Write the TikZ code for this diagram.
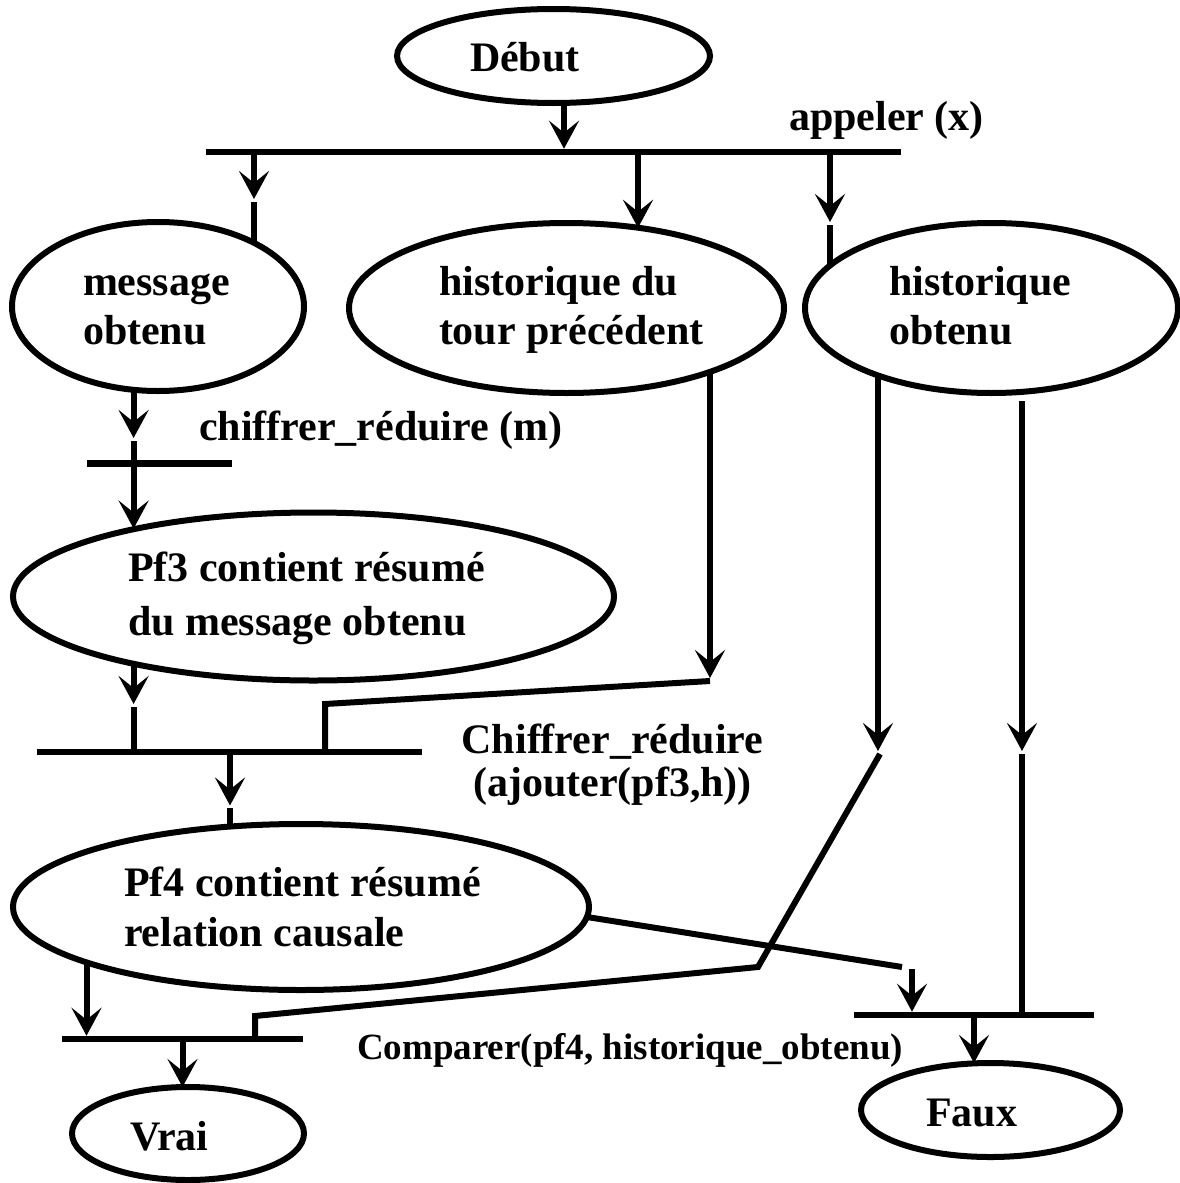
\documentclass[tikz,border=0pt]{standalone}
\usepackage{fontspec}
\setmainfont{Liberation Serif}
\usetikzlibrary{shapes.geometric,arrows.meta}
\begin{document}
\begin{tikzpicture}[x=1pt,y=-1pt,
  every node/.style={inner sep=0pt, outer sep=0pt},
  ell/.style={draw, ellipse, line width=6pt},
  tbar/.style={fill=black, rectangle, minimum height=6.5pt},
  lbl/.style={font=\bfseries\fontsize{42}{49}\selectfont, align=left, anchor=base west},
  ln/.style={line width=6pt},
  arr/.style={ln, -{Stealth[length=28pt,width=30pt,inset=12pt]}},
]
\useasboundingbox (0,0) rectangle (1180,1183);

% ellipses
\node[ell, minimum width=313pt, minimum height=94pt] (debut) at (553.5,56) {};
\node[ell, minimum width=292pt, minimum height=169pt] (msg) at (158,306.5) {};
\node[ell, minimum width=435pt, minimum height=170pt] (hdt) at (566.5,308) {};
\node[ell, minimum width=373pt, minimum height=170pt] (ho) at (991.5,308) {};
\node[ell, minimum width=601pt, minimum height=168pt] (pf3) at (313.5,596.5) {};
\node[ell, minimum width=576pt, minimum height=166pt] (pf4) at (301,907) {};
\node[ell, minimum width=232pt, minimum height=93pt] (vrai) at (188,1133.5) {};
\node[ell, minimum width=259pt, minimum height=94pt] (faux) at (990.5,1110) {};

% bars
\node[tbar, minimum width=695pt] (t1) at (553.5,152) {};
\node[tbar, minimum width=145.5pt] (t2) at (159.25,463.5) {};
\node[tbar, minimum width=385pt] (t3) at (229.5,752) {};
\node[tbar, minimum width=241pt] (t4) at (182.5,1039) {};
\node[tbar, minimum width=240pt] (t5) at (974,1015) {};

% texts (multi-line nodes: base = last line)
\node[lbl] (tdebut) at (470,71.5) {Début};
\node[lbl] (tappel) at (789,130) {appeler (x)};
\node[lbl] (tmsg) at (83,344) {message\\obtenu};
\node[lbl] (thdt) at (439,344) {historique du\\tour précédent};
\node[lbl] (tho) at (889,344) {historique\\obtenu};
\node[lbl] (tchm) at (199,440) {chiffrer\_réduire (m)};
\node[lbl, font=\bfseries\fontsize{42}{54}\selectfont] (tpf3) at (128,635) {Pf3 contient résumé\\du message obtenu};
\node[lbl, font=\bfseries\fontsize{42}{43}\selectfont, align=center, anchor=base] (tchr) at (612.5,796) {Chiffrer\_réduire\\(ajouter(pf3,h))};
\node[lbl, font=\bfseries\fontsize{42}{50}\selectfont] (tpf4) at (124,946.5) {Pf4 contient résumé\\relation causale};
\node[lbl, font=\bfseries\fontsize{37}{44}\selectfont] (tcmp) at (357,1059) {Comparer(pf4, historique\_obtenu)};
\node[lbl] (tvrai) at (130,1150) {Vrai};
\node[lbl] (tfaux) at (926,1126) {Faux};

% free ends
\coordinate (m1) at (254,199); \coordinate (m2) at (254,202);
\coordinate (h1) at (830,222); \coordinate (h2) at (830,225);
\coordinate (c1) at (133.6,438); \coordinate (c2) at (133.6,441);
\coordinate (c3) at (133.6,704); \coordinate (c4) at (133.6,707);
\coordinate (d1) at (710,678); \coordinate (d2) at (710,681); \coordinate (d3) at (325,704);
\coordinate (e1) at (230,805.5); \coordinate (e2) at (230,808);
\coordinate (f1) at (878,751); \coordinate (f2) at (880,754); \coordinate (f3) at (758,967); \coordinate (f4) at (255,1016);
\coordinate (g0) at (1022,401); \coordinate (g1) at (1022,751); \coordinate (g2) at (1022,754);
\coordinate (k1) at (902,967); \coordinate (k2) at (912,969);

% connectors
\draw[arr] (564,0 |- debut.south) -- (564,0 |- t1.north);
\draw[arr] (254,0 |- t1.south) -- (m1);
\draw[ln] (m2) -- (254,0 |- msg.33.7);
\draw[arr] (638,0 |- t1.south) -- (638,0 |- hdt.48);
\draw[arr] (830,0 |- t1.south) -- (h1);
\draw[ln] (h2) -- (830,0 |- ho.165);

\draw[arr] (133.6,0 |- msg.south) -- (c1);
\draw[arr] (c2) -- (133.6,0 |- pf3.159.6);
\draw[arr] (133.6,0 |- pf3.200.4) -- (c3);
\draw[ln] (c4) -- (133.6,0 |- t3.north);
\draw[arr] (710,0 |- hdt.-23.9) -- (d1);
\draw[ln] (d2) -- (d3) -- (325,0 |- t3.north);
\draw[arr] (230,0 |- t3.south) -- (e1);
\draw[ln] (e2) -- (230,0 |- pf4.131.4);

\draw[arr] (878,0 |- ho.210.9) -- (f1);
\draw[ln] (f2) -- (f3) -- (f4) -- (255,0 |- t4.north);
\draw[arr] (g0) -- (g1);
\draw[ln] (g2) -- (1022,0 |- t5.north);
\draw[ln] (pf4.-2.2) -- (k1);
\draw[arr] (k2) -- (912,0 |- t5.north);
\draw[arr] (86.5,0 |- pf4.194.5) -- (86.5,0 |- t4.north);
\draw[arr] (182.5,0 |- t4.south) -- (182.5,0 |- vrai.north);
\draw[arr] (974,0 |- t5.south) -- (974,0 |- faux.north);
\end{tikzpicture}
\end{document}
